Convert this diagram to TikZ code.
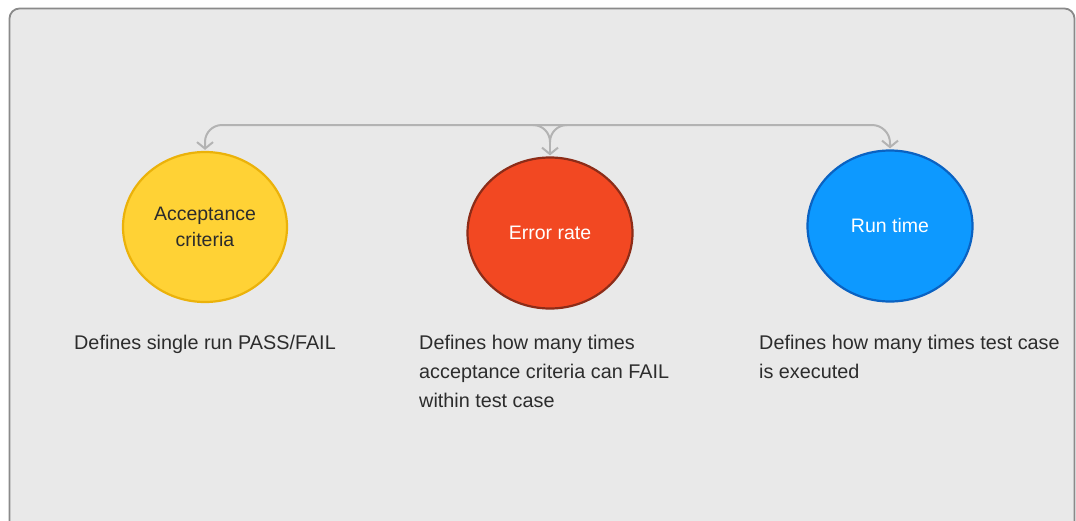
\documentclass[tikz,border=0pt]{standalone}
\usepackage{fontspec}
\setmainfont{Liberation Sans}
\usetikzlibrary{arrows.meta,shapes.geometric}
\definecolor{panel}{HTML}{E9E9E9}
\definecolor{panelline}{HTML}{8A8A8A}
\definecolor{link}{HTML}{B3B3B3}
\definecolor{yfill}{HTML}{FFD235}
\definecolor{yline}{HTML}{EBB20A}
\definecolor{rfill}{HTML}{F24822}
\definecolor{rline}{HTML}{8C2C18}
\definecolor{bfill}{HTML}{0D99FF}
\definecolor{bline}{HTML}{0A62C2}
\definecolor{ink}{HTML}{2C2C2C}
\tikzset{
  blob/.style={ellipse, minimum width=164pt, minimum height=150pt, line width=2.2pt, inner sep=0pt, align=center, font=\fontsize{19.5}{26}\selectfont},
  conn/.style={draw=link, line width=2pt, -{Straight Barb[length=6.5pt,width=16pt,line width=2pt]}},
  note/.style={anchor=base west, align=left, text=ink, inner sep=0pt, font=\fontsize{19.8}{29}\selectfont},
}
\begin{document}
\begin{tikzpicture}[x=1pt,y=-1pt]
  \useasboundingbox[fill=white] (0,0) rectangle (1076,520);
  % panel
  \begin{scope}
    \clip (0,0) rectangle (1076,520);
    \draw[panelline, fill=panel, line width=1.8pt, rounded corners=10pt] (9.5,8.5) rectangle (1074.5,560);
  \end{scope}
  % circles
  \node[blob, fill=yfill, draw=yline, text=ink] (acc) at (205,227) {Acceptance\\criteria};
  \node[blob, fill=rfill, draw=rline, text=white, minimum width=165pt, minimum height=151pt] (err) at (550,233) {Error rate};
  \node[blob, fill=bfill, draw=bline, text=white, minimum width=165pt, minimum height=151pt] (run) at (890,226) {Run time};
  % branching connector
  \coordinate (hub) at (550,125);
  \coordinate (hl) at (533,125);
  \coordinate (hr) at (567,125);
  \coordinate (hm) at (550,142);
  \draw[conn, rounded corners=17pt, shorten >=1pt] (hub) -| (acc.north);
  \draw[conn, rounded corners=18pt, shorten >=1pt] (hub) -| (run.north);
  \draw[draw=link, line width=2pt] (hl) to[out=0,in=90] (hm);
  \draw[draw=link, line width=2pt] (hr) to[out=180,in=90] (hm);
  \draw[conn, shorten >=1pt] (hm) -- (err.north);
  % descriptions
  \node[note] (d1) at (74,349) {Defines single run PASS/FAIL};
  \node[note, anchor=north west] (d2) at (419,335) {Defines how many times\\acceptance criteria can FAIL\\within test case};
  \node[note, anchor=north west] (d3) at (759,335) {Defines how many times test case\\is executed};
\end{tikzpicture}
\end{document}
